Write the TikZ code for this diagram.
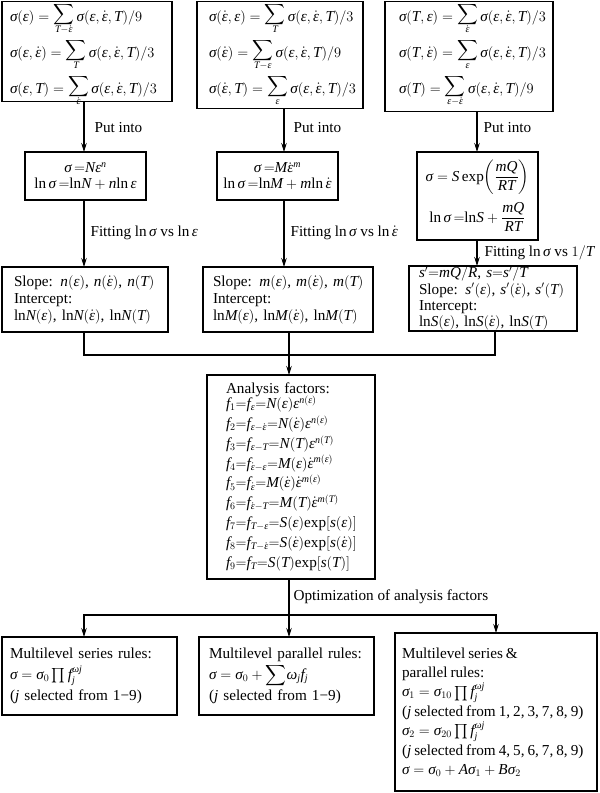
\documentclass[tikz,border=0pt]{standalone}
\usepackage{amsmath}
\usepackage{fontspec}
\setmainfont{Liberation Serif}
\DeclareSymbolFont{lsit}{TU}{\rmdefault}{m}{it}
\DeclareMathSizes{15.2}{15.2}{10}{7.5}
\newcount\mycnt
\mycnt=`a
\loop\Umathcode\mycnt=7 \symlsit \mycnt\relax\ifnum\mycnt<`z\advance\mycnt by 1\repeat
\mycnt=`A
\loop\Umathcode\mycnt=7 \symlsit \mycnt\relax\ifnum\mycnt<`Z\advance\mycnt by 1\repeat
\Umathchardef\sigma=7 \symlsit "03C3\relax
\Umathchardef\varepsilon=7 \symlsit "03B5\relax
\Umathchardef\omega=7 \symlsit "03C9\relax
\usetikzlibrary{arrows.meta}
\newcommand\myfs[2]{\fontsize{#1}{#2}\selectfont\lineskiplimit=-100pt\relax}
\newcommand\de{\dot\varepsilon}
\newcommand\ve{\varepsilon}
\newcommand\hstr{\rule{0pt}{13pt}}
\newcommand\dstr[1]{\rule[-#1]{0pt}{#1}}
\newcommand\bsum[1]{\mathop{\ooalign{\raisebox{3pt}{$\displaystyle\sum$}\cr\hidewidth\raisebox{-11pt}[0pt][0pt]{$\scriptstyle #1$}\hidewidth\cr}}}
\begin{document}
\begin{tikzpicture}[x=1pt,y=-1pt,
  box/.style={draw, line width=1.1pt, anchor=north west, outer sep=0pt, inner ysep=0pt},
  arr/.style={-{Stealth[length=9pt,width=5.5pt]}, line width=1.1pt},
  ln/.style={line width=1.1pt},
  lab/.style={anchor=west, inner sep=0pt, font=\myfs{15.2}{19}}]
\fill[white] (0,0) rectangle (600,793);
\useasboundingbox (0,0) rectangle (600,793);
% top row
\node[box, minimum width=170pt, minimum height=100pt, inner xsep=8pt, text width=154pt, align=left, font=\myfs{15.2}{36}] (b1) at (2,1.5) {%
\mbox{\hstr$\sigma(\ve)=\bsum{T-\de}\sigma(\ve,\de,T)/9$}\\
\mbox{$\sigma(\ve,\de)=\bsum{T}\sigma(\ve,\de,T)/3$}\\
\mbox{$\sigma(\ve,T)=\bsum{\de}\sigma(\ve,\de,T)/3$\dstr{6pt}}};
\node[box, minimum width=166pt, minimum height=107pt, inner xsep=12pt, text width=142pt, align=left, font=\myfs{15.2}{36}] (b2) at (197,1.5) {%
\mbox{\hstr$\sigma(\de,\ve)=\bsum{T}\sigma(\ve,\de,T)/3$}\\
\mbox{$\sigma(\de)=\bsum{T-\ve}\sigma(\ve,\de,T)/9$}\\
\mbox{$\sigma(\de,T)=\bsum{\ve}\sigma(\ve,\de,T)/3$\dstr{13pt}}};
\node[box, minimum width=168pt, minimum height=110pt, inner xsep=14pt, text width=140pt, align=left, font=\myfs{15.2}{36}] (b3) at (385,1.5) {%
\mbox{\hstr$\sigma(T,\ve)=\bsum{\de}\sigma(\ve,\de,T)/3$}\\
\mbox{$\sigma(T,\de)=\bsum{\ve}\sigma(\ve,\de,T)/3$}\\
\mbox{$\sigma(T)=\bsum{\ve-\de}\sigma(\ve,\de,T)/9$\dstr{16pt}}};
% second row
\node[box, minimum width=121pt, minimum height=48pt, align=center, font=\myfs{15.2}{15.5}] (b4) at (25,152) {%
$\sigma\,{=}N\ve^{n}$\\
$\mathrm{ln}\,\sigma\,{=}\mathrm{ln}N+n\mathrm{ln}\,\ve$};
\node[box, minimum width=121pt, minimum height=48pt, align=center, font=\myfs{15.2}{15.5}] (b5) at (217,152) {%
$\sigma\,{=}M\de^{m}$\\
$\mathrm{ln}\,\sigma\,{=}\mathrm{ln}M+m\mathrm{ln}\,\de$};
\node[box, minimum width=121pt, minimum height=88pt, align=center, font=\myfs{15.2}{41}] (b6) at (417,152) {%
$\displaystyle\sigma = S\,\mathrm{exp}\!\left(\frac{mQ}{RT}\right)$\\
$\displaystyle\mathrm{ln}\,\sigma\,{=}\mathrm{ln}S+\frac{mQ}{RT}$};
% third row
\node[box, minimum width=166pt, minimum height=65pt, inner xsep=12pt, text width=142pt, align=left, font=\myfs{15.2}{17}] (b7) at (2,267) {%
\mbox{Slope: $n(\ve)$, $n(\de)$, $n(T)$}\\
Intercept:\\
\mbox{ln$N(\ve)$, ln$N(\de)$, ln$N(T)$}};
\node[box, minimum width=170pt, minimum height=65pt, inner xsep=10pt, text width=150pt, align=left, font=\myfs{15.2}{17}] (b8) at (203,267) {%
\mbox{Slope: $m(\ve)$, $m(\de)$, $m(T)$}\\
Intercept:\\
\mbox{ln$M(\ve)$, ln$M(\de)$, ln$M(T)$}};
\node[box, minimum width=168pt, minimum height=65pt, inner xsep=10pt, text width=148pt, align=left, font=\myfs{15.2}{16.2}] (b9) at (409,266) {%
\mbox{$s'{=}mQ/R$, $s{=}s'/T$}\\
\mbox{Slope: $s'(\ve)$, $s'(\de)$, $s'(T)$}\\
Intercept:\\
\mbox{ln$S(\ve)$, ln$S(\de)$, ln$S(T)$}};
% analysis factors
\node[box, minimum width=168pt, minimum height=204pt, inner xsep=19pt, text width=130pt, align=left, font=\myfs{15.2}{19.8}] (b10) at (207,375) {%
\mbox{Analysis factors:}\\[-5pt]
\mbox{$f_1{=}f_{\ve}{=}N(\ve)\ve^{n(\ve)}$}\\
\mbox{$f_2{=}f_{\ve-\de}{=}N(\de)\ve^{n(\ve)}$}\\
\mbox{$f_3{=}f_{\ve-T}{=}N(T)\ve^{n(T)}$}\\
\mbox{$f_4{=}f_{\de-\ve}{=}M(\ve)\de^{m(\ve)}$}\\
\mbox{$f_5{=}f_{\de}{=}M(\de)\de^{m(\ve)}$}\\
\mbox{$f_6{=}f_{\de-T}{=}M(T)\de^{m(T)}$}\\
\mbox{$f_7{=}f_{T-\ve}{=}S(\ve)\mathrm{exp}[s(\ve)]$}\\
\mbox{$f_8{=}f_{T-\de}{=}S(\de)\mathrm{exp}[s(\de)]$}\\
\mbox{$f_9{=}f_{T}{=}S(T)\mathrm{exp}[s(T)]$}};
% bottom row
\node[box, minimum width=175pt, minimum height=78pt, inner xsep=8pt, text width=159pt, align=left, font=\myfs{15.2}{21}] (b11) at (2,637) {%
\mbox{Multilevel series rules:}\\
\mbox{$\sigma=\sigma_0\prod f_j^{\omega j}$}\\
\mbox{($j$ selected from 1−9)}};
\node[box, minimum width=175pt, minimum height=78pt, inner xsep=10pt, text width=155pt, align=left, font=\myfs{15.2}{21}] (b12) at (199,637) {%
\mbox{Multilevel parallel rules:}\\
\mbox{$\sigma=\sigma_0+\smash{\displaystyle\sum}\omega_j f_j$}\\
\mbox{($j$ selected from 1−9)}};
\node[box, minimum width=202pt, minimum height=158pt, inner xsep=7pt, text width=188pt, align=left, font=\myfs{15.2}{19.4}] (b13) at (395,633) {%
\spaceskip=3pt plus 1pt\relax
\mbox{Multilevel series \&}\\
\mbox{parallel rules:}\\
\mbox{$\sigma_1=\sigma_{10}\prod f_j^{\omega j}$}\\
\mbox{($j$ selected from 1, 2, 3, 7, 8, 9)}\\
\mbox{$\sigma_2=\sigma_{20}\prod f_j^{\omega j}$}\\
\mbox{($j$ selected from 4, 5, 6, 7, 8, 9)}\\
\mbox{$\sigma=\sigma_0+A\sigma_1+B\sigma_2$}};
% columns
\coordinate (c1) at (84,0);
\coordinate (c2) at (284,0);
\coordinate (c3) at (477,0);
\coordinate (c9) at (495,0);
\coordinate (cm) at (289,0);
\coordinate (c13) at (496,0);
\coordinate (m) at (289,355);
\coordinate (s) at (289,615);
% connectors
\draw[arr] (b1.south -| c1) -- node[lab, pos=.51, xshift=10pt] (l1) {Put into} (b4.north -| c1);
\draw[arr] (b2.south -| c2) -- node[lab, pos=.43, xshift=9pt] (l2) {Put into} (b5.north -| c2);
\draw[arr] (b3.south -| c3) -- node[lab, pos=.39, xshift=6pt] (l3) {Put into} (b6.north -| c3);
\draw[arr] (b4.south -| c1) -- node[lab, pos=.49, xshift=6pt] (l4) {Fitting $\mathrm{ln}\,\sigma$ vs $\mathrm{ln}\,\ve$} (b7.north -| c1);
\draw[arr] (b5.south -| c2) -- node[lab, pos=.49, xshift=6pt] (l5) {Fitting $\mathrm{ln}\,\sigma$ vs $\mathrm{ln}\,\de$} (b8.north -| c2);
\draw[arr] (b6.south -| c3) -- node[lab, pos=.5, xshift=7pt] (l6) {Fitting $\mathrm{ln}\,\sigma$ vs $1/T$} (b9.north -| c3);
\draw[ln] (b7.south -| c1) |- (m);
\draw[ln] (b9.south -| c9) |- (m);
\draw[arr] (b8.south -| cm) -- (b10.north -| cm);
\draw[ln] (b10.south -| cm) -- node[lab, pos=.5, xshift=4pt] (l7) {Optimization of analysis factors} (s);
\draw[arr] (s) -| (b11.north -| c1);
\draw[arr] (s) -- (b12.north -| cm);
\draw[arr] (s) -| (b13.north -| c13);
\end{tikzpicture}
\end{document}
